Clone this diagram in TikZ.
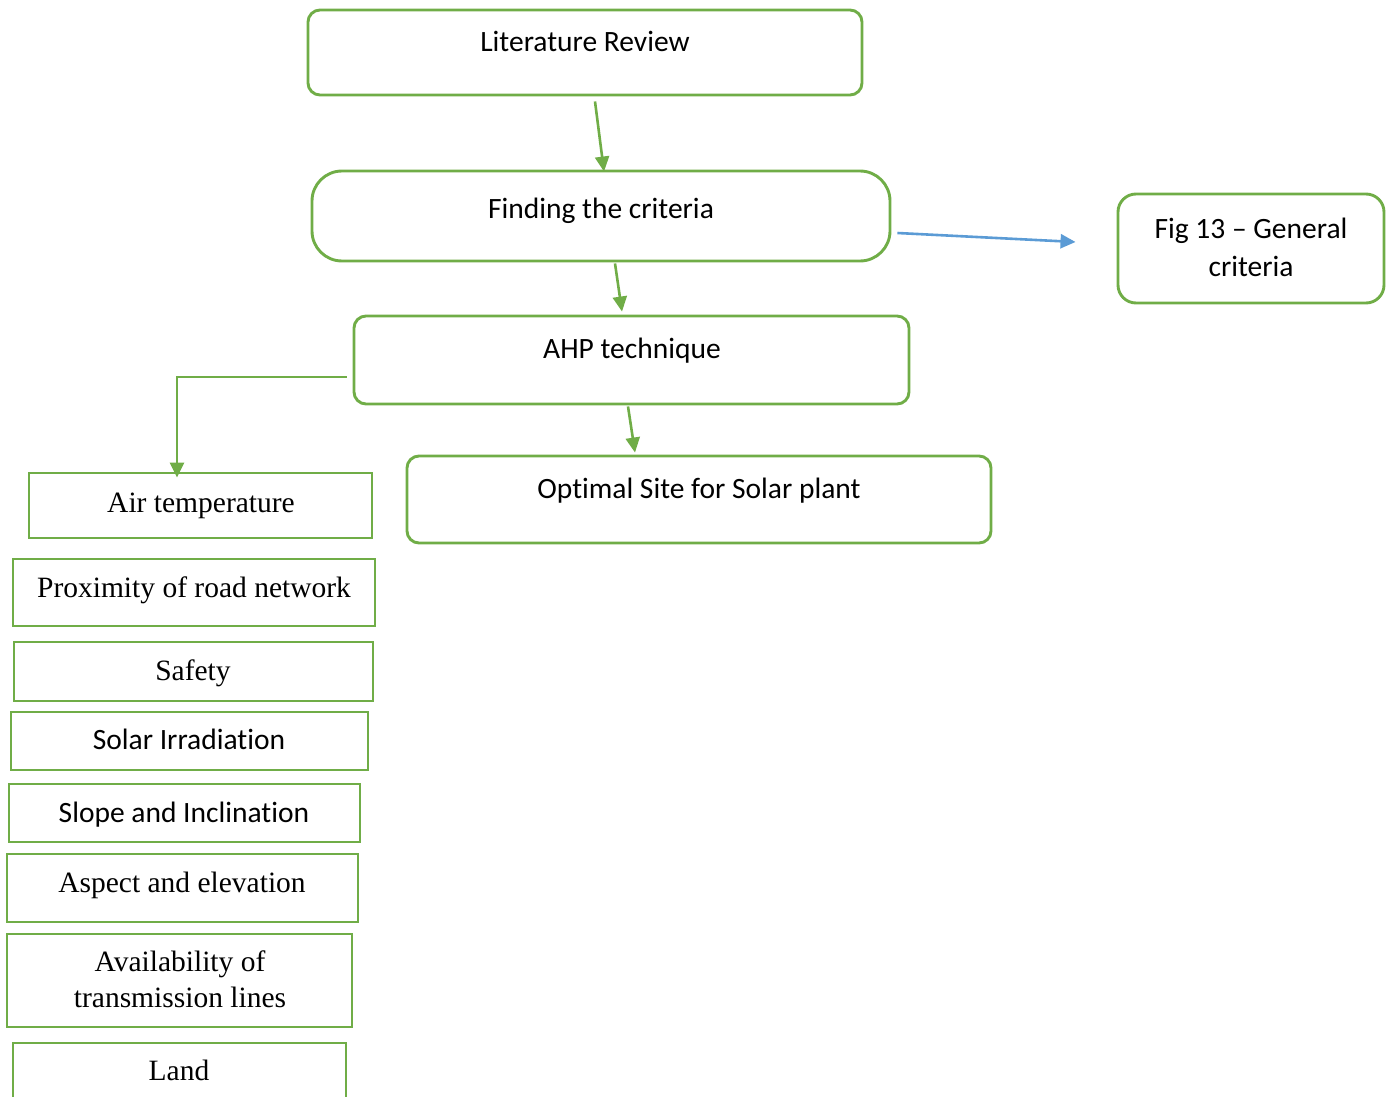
\documentclass[tikz,border=0pt]{standalone}
\usepackage{fontspec}
\setmainfont{Liberation Serif}
\newfontfamily\calfont[Ligatures={NoCommon}]{Carlito}
\usetikzlibrary{arrows.meta}
\definecolor{gr}{HTML}{70AD47}
\definecolor{bl}{HTML}{5B9BD5}
\tikzset{
  gbox/.style={draw=gr, line width=2.9pt, rectangle, inner sep=0pt},
  rbox/.style={gbox, rounded corners=12pt},
  stxt/.style={anchor=base, inner sep=0pt, align=center, font={\calfont\fontsize{29.5}{38}\selectfont}},
  rtxt/.style={anchor=base, inner sep=0pt, align=center, font={\fontsize{29.5}{36}\selectfont}},
  garrow/.style={draw=gr, line width=2.6pt, -{Triangle[length=15pt,width=14pt]}},
  barrow/.style={draw=bl, line width=2.6pt, -{Triangle[length=15pt,width=14pt]}},
}
\begin{document}
\begin{tikzpicture}[x=1pt,y=-1pt]
\clip (0,0) rectangle (1392,1097);
\useasboundingbox (0,0) rectangle (1392,1097);
% rounded boxes
\node[rbox, minimum width=554pt, minimum height=85pt] (lr) at (585,52.5) {};
\node[rbox, rounded corners=30pt, minimum width=578pt, minimum height=90pt] (fc) at (601,216) {};
\node[rbox, minimum width=555pt, minimum height=88pt] (ahp) at (631.5,360) {};
\node[rbox, minimum width=584pt, minimum height=87pt] (os) at (699,499.5) {};
\node[rbox, rounded corners=18pt, minimum width=266pt, minimum height=109pt] (fig) at (1251,248.5) {};
% texts
\node[stxt] (lrT) at (585,52) {Literature Review};
\node[stxt] (fcT) at (601,218) {Finding the criteria};
\node[stxt] (ahpT) at (632,358) {AHP technique};
\node[stxt] (osT) at (699,498) {Optimal Site for Solar plant};
\node[stxt] (figT) at (1251,276) {Fig 13 \textendash{} General\\criteria};
% criteria boxes
\node[gbox, minimum width=343pt, minimum height=65pt] (air) at (200.5,505.5) {};
\node[gbox, minimum width=362pt, minimum height=67pt] (prox) at (194,592.5) {};
\node[gbox, minimum width=359pt, minimum height=59pt] (saf) at (193.5,671.5) {};
\node[gbox, minimum width=357pt, minimum height=58pt] (sol) at (189.5,741) {};
\node[gbox, minimum width=351pt, minimum height=58pt] (slo) at (184.5,813) {};
\node[gbox, minimum width=351pt, minimum height=68pt] (asp) at (182.5,888) {};
\node[gbox, minimum width=345pt, minimum height=93pt] (ava) at (179.5,980.5) {};
\node[gbox, minimum width=333pt, minimum height=80pt] (lan) at (179.5,1083) {};
\node[rtxt] (airT) at (201,512) {Air temperature};
\node[rtxt] (proxT) at (194,597) {Proximity of road network};
\node[rtxt] (safT) at (193,680) {Safety};
\node[stxt] (solT) at (189,749) {Solar Irradiation};
\node[stxt] (sloT) at (184,822) {Slope and Inclination};
\node[rtxt] (aspT) at (182,892) {Aspect and elevation};
\node[rtxt] (avaT) at (180,1007) {Availability of\\transmission lines};
\node[rtxt] (lanT) at (179,1080) {Land};
% connectors
\draw[garrow] ([xshift=10pt,yshift=-5pt]lr.south) -- ([xshift=3pt,yshift=-2pt]fc.north);
\draw[garrow] ([xshift=14pt,yshift=-1pt]fc.south) -- ([xshift=-9.5pt,yshift=3pt]ahp.north);
\draw[garrow] ([xshift=-3.5pt,yshift=-1pt]ahp.south) -- ([xshift=-64pt,yshift=2pt]os.north);
\draw[garrow] ([xshift=-6pt,yshift=-17pt]ahp.west) -| ([xshift=-23.5pt,yshift=-6pt]air.north);
\coordinate (bend) at ([xshift=-41pt,yshift=6.5pt]fig.west);
\draw[barrow] ([xshift=6pt,yshift=-17pt]fc.east) -- (bend);
\end{tikzpicture}
\end{document}
